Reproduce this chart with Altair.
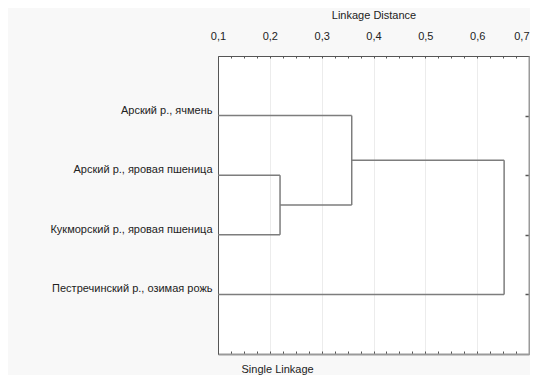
import json
import altair as alt
import pandas as pd

# ---- data ----
leaves = [
    "Арский р., ячмень",
    "Арский р., яровая пшеница",
    "Кукморский р., яровая пшеница",
    "Пестречинский р., озимая рожь",
]
leaf_pos = [1, 2, 3, 4]
# merges: indices 0..3 are leaves, 4.. are clusters formed in order
merge_a = [1, 0, 5]
merge_b = [2, 4, 3]
merge_dist = [0.2197, 0.358, 0.652]

x_domain = [0.1, 0.7]
x_ticks = [0.1, 0.125, 0.15, 0.175, 0.2, 0.225, 0.25, 0.275, 0.3, 0.325, 0.35,
           0.375, 0.4, 0.425, 0.45, 0.475, 0.5, 0.525, 0.55, 0.575, 0.6, 0.625,
           0.65, 0.675, 0.7]
title_top = "Linkage Distance"
title_bottom = "Single Linkage"

# ---- build dendrogram segments ----
pos = {i: p for i, p in enumerate(leaf_pos)}
height = {i: x_domain[0] for i in range(len(leaves))}
rows = []
for k, (a, b, d) in enumerate(zip(merge_a, merge_b, merge_dist)):
    node = len(leaves) + k
    rows.append({"x": d, "x2": d, "y": pos[a], "y2": pos[b]})
    rows.append({"x": height[a], "x2": d, "y": pos[a], "y2": pos[a]})
    rows.append({"x": height[b], "x2": d, "y": pos[b], "y2": pos[b]})
    pos[node] = (pos[a] + pos[b]) / 2
    height[node] = d
df = pd.DataFrame(rows)

FONT = "Liberation Sans"
TXT = "#222222"
is_major = "abs(datum.value*10 - round(datum.value*10)) < 0.001"
label_arr = json.dumps([""] + leaves, ensure_ascii=False)

x_scale = alt.Scale(domain=x_domain, nice=False, zero=False)
y_scale = alt.Scale(domain=[0, 5], reverse=True, nice=False, zero=False)

top_axis = alt.Axis(
    orient="top", values=x_ticks,
    labelExpr=f"{is_major} ? replace(format(datum.value, '.1f'), '.', ',') : ''",
    labelOverlap=False, labelFlush=False, labelBaseline="alphabetic",
    labelAlign={"condition": {"test": f"datum.value > {x_domain[1] - 0.01}", "value": "right"},
                "value": "center"},
    labelPadding=19, labelFont=FONT, labelFontSize=11, labelColor=TXT,
    tickSize={"expr": "-2"}, tickColor="#555555", tickWidth=1,
    domainColor="#555555", domainWidth=1,
    grid=True, gridColor="#ececec",
    gridOpacity={"condition": {"test": is_major, "value": 1}, "value": 0},
    title=title_top, titleY=-37.5, titleBaseline="alphabetic",
    titleFont=FONT, titleFontSize=11, titleFontWeight="normal", titleColor=TXT,
)
left_axis = alt.Axis(
    orient="left", values=leaf_pos,
    labelExpr=f"{label_arr}[datum.value]",
    labelOverlap=False, labelBaseline="alphabetic", labelOffset=-2.5,
    labelPadding=6, labelFont=FONT, labelFontSize=11, labelColor=TXT,
    ticks=False, grid=False, domainColor="#555555", domainWidth=1, title=None,
)
bottom_axis = alt.Axis(
    orient="bottom", values=x_ticks, labels=False, grid=False,
    tickSize={"expr": "-3"}, tickColor="#555555", tickWidth=1,
    domainColor="#9a9a9a", domainWidth=2,
    title=title_bottom, titleX=23, titleY=18, titleAlign="left",
    titleBaseline="alphabetic", titleFont=FONT, titleFontSize=11,
    titleFontWeight="normal", titleColor=TXT,
)
right_axis = alt.Axis(
    orient="right", values=leaf_pos, labels=False, grid=False,
    tickSize={"expr": "-4"}, tickColor="#555555", tickWidth=1.5,
    domainColor="#9a9a9a", domainWidth=2, title=None,
)

lines = alt.Chart(df).mark_rule(color="#7d7d7d", strokeWidth=1.5).encode(
    x=alt.X("x:Q", scale=x_scale, axis=top_axis),
    x2="x2:Q",
    y=alt.Y("y:Q", scale=y_scale, axis=left_axis),
    y2="y2:Q",
)
frame = alt.Chart(df).mark_rule(opacity=0).encode(
    x=alt.X("x:Q", scale=x_scale, axis=bottom_axis),
    x2="x2:Q",
    y=alt.Y("y:Q", scale=y_scale, axis=right_axis),
    y2="y2:Q",
)

chart = (
    alt.layer(lines, frame)
    .resolve_axis(x="independent", y="independent")
    .properties(
        width=311, height=298,
        autosize=alt.AutoSizeParams(type="none"),
        padding={"left": 210, "top": 48, "right": 1, "bottom": 21},
        background="#f8f8f8",
    )
    .configure_view(fill="white", stroke=None)
)

chart.save("out.html", embed_options={"renderer": "svg", "actions": False})
